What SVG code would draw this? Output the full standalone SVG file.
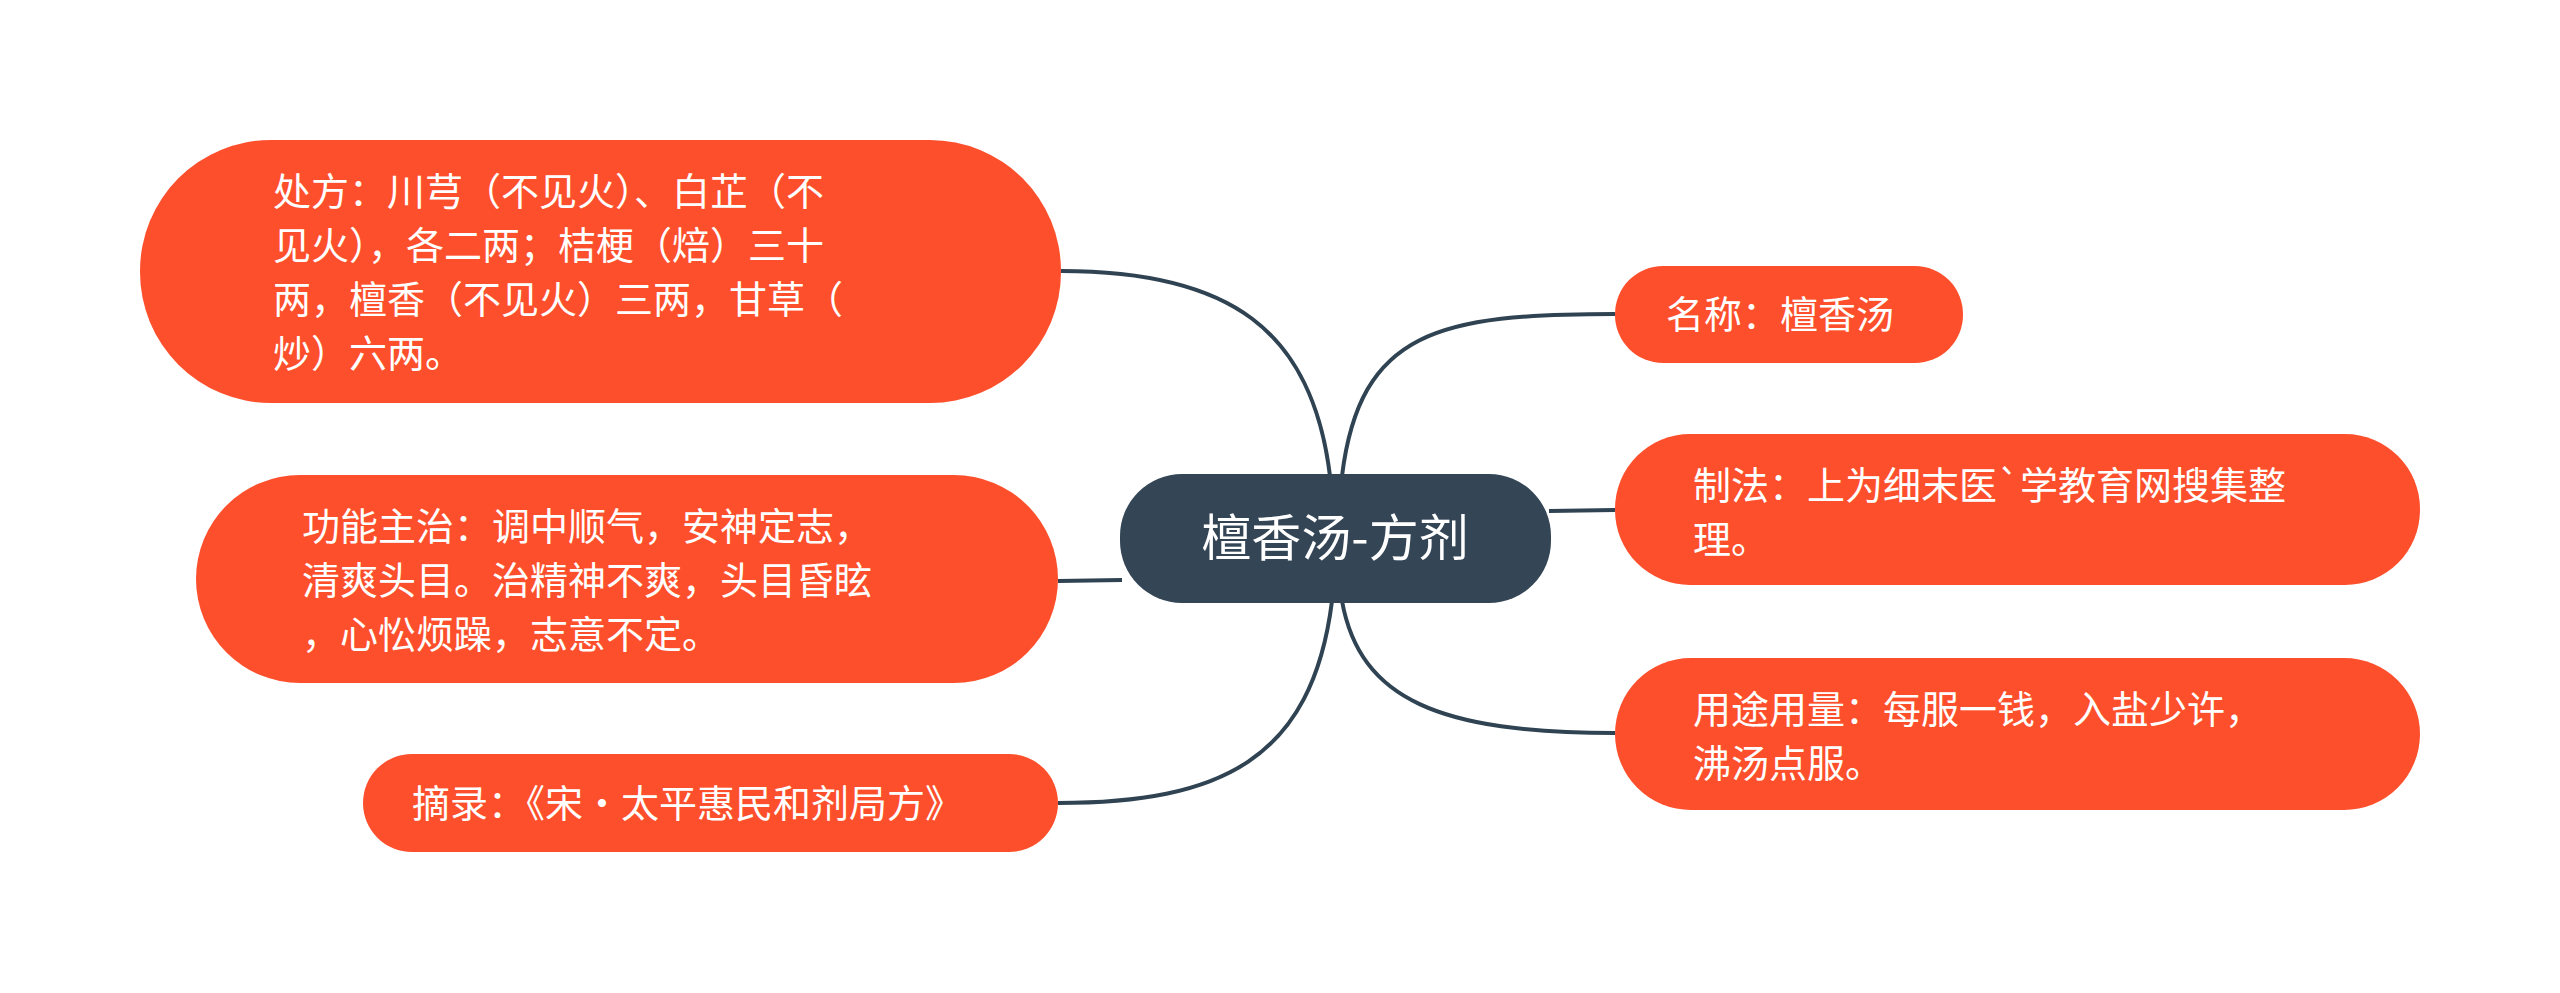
<svg xmlns="http://www.w3.org/2000/svg" width="2560" height="993" viewBox="0 0 2560 993">
<style>
.n{fill:#fe4f2c}
.t{font-family:"Noto Sans CJK SC","Noto Sans",sans-serif;font-size:38px;fill:#fff}
.c{fill:none;stroke:#2f4353;stroke-width:4}
</style>
<rect width="2560" height="993" fill="#fff"/>
<g id="connectors">
<path class="c" d="M1330,476 C1312,330 1230,271 1061,271"/>
<path class="c" d="M1342,476 C1360,330 1440,314 1615,314"/>
<path class="c" d="M1549,511 L1615,510"/>
<path class="c" d="M1342,601 C1360,700 1440,733 1615,733"/>
<path class="c" d="M1122,580 L1058,581"/>
<path class="c" d="M1332,601 C1312,760 1220,803 1058,803"/>
</g>
<g id="center">
<rect x="1120" y="474" width="431" height="129" rx="62" fill="#344656"/>
<text x="1335" y="556" text-anchor="middle" class="t" style="font-size:50px">檀香汤-方剂</text>
</g>
<g id="n1">
<rect class="n" x="140" y="140" width="921" height="263" rx="131"/>
<text class="t"><tspan x="273" y="205">处方：川芎（不见火）、白芷（不</tspan><tspan x="273" y="259">见火），各二两；桔梗（焙）三十</tspan><tspan x="273" y="313">两，檀香（不见火）三两，甘草（</tspan><tspan x="273" y="367">炒）六两。</tspan></text>
</g>
<g id="n2">
<rect class="n" x="196" y="475" width="862" height="208" rx="104"/>
<text class="t"><tspan x="302" y="540">功能主治：调中顺气，安神定志，</tspan><tspan x="302" y="594">清爽头目。治精神不爽，头目昏眩</tspan><tspan x="302" y="648">，心忪烦躁，志意不定。</tspan></text>
</g>
<g id="n3">
<rect class="n" x="363" y="754" width="695" height="98" rx="49"/>
<text class="t" x="412" y="817">摘录：《宋·太平惠民和剂局方》</text>
</g>
<g id="n4">
<rect class="n" x="1615" y="266" width="348" height="97" rx="48"/>
<text class="t" x="1666" y="328">名称：檀香汤</text>
</g>
<g id="n5">
<rect class="n" x="1615" y="434" width="805" height="151" rx="75"/>
<text class="t"><tspan x="1693" y="499">制法：上为细末医`学教育网搜集整</tspan><tspan x="1693" y="553">理。</tspan></text>
</g>
<g id="n6">
<rect class="n" x="1615" y="658" width="805" height="152" rx="76"/>
<text class="t"><tspan x="1693" y="723">用途用量：每服一钱，入盐少许，</tspan><tspan x="1693" y="777">沸汤点服。</tspan></text>
</g>
</svg>
